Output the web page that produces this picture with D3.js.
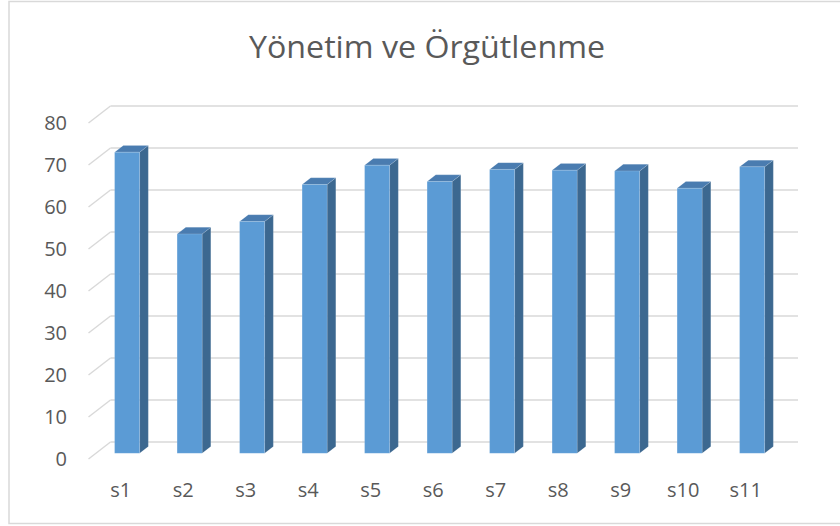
<!DOCTYPE html>
<html>
<head>
<meta charset="utf-8">
<script src="https://cdn.jsdelivr.net/npm/d3@7"></script>
<style>
  html, body { margin: 0; padding: 0; background: #fff; }
  text { font-family: "Open Sans", sans-serif; fill: #595959; }
</style>
</head>
<body>
<div id="chart"></div>
<script>
var width = 840;
var height = 526;

var title = "Yönetim ve Örgütlenme";
var categories = ["s1", "s2", "s3", "s4", "s5", "s6", "s7", "s8", "s9", "s10", "s11"];
var values = [71.7, 52.2, 55.2, 64.0, 68.6, 64.7, 67.6, 67.4, 67.2, 63.1, 68.2];
var yTicks = [0, 10, 20, 30, 40, 50, 60, 70, 80];

// oblique depth: back wall -> front floor edge
var depthX = -22;
var depthY = 17;
var barFront = 0.665;
var barBack = 0.27;

function proj(x, y, f) {
  return [x + depthX * f, y + depthY * f];
}

var svg = d3.select("#chart")
  .append("svg")
  .attr("width", width)
  .attr("height", height)
  .attr("viewBox", [0, 0, width, height]);

// chart border
svg.append("rect")
  .attr("x", 9)
  .attr("y", 1.5)
  .attr("width", 840)
  .attr("height", 522)
  .attr("fill", "none")
  .attr("stroke", "#D9D9D9")
  .attr("stroke-width", 1.5);

var x = d3.scaleBand()
  .domain(categories)
  .range([110.5, 798]);

var y = d3.scaleLinear()
  .domain([0, 80])
  .range([442, 106]);

// gridlines: back wall + side diagonal
var grid = svg.append("g");
yTicks.forEach(function(t) {
  var yy = y(t);
  var p = proj(110.5, yy, 1);
  grid.append("line")
    .attr("x1", 110.5).attr("y1", yy)
    .attr("x2", 798).attr("y2", yy)
    .attr("stroke", "#D9D9D9").attr("stroke-width", 1.5);
  grid.append("line")
    .attr("x1", p[0]).attr("y1", p[1])
    .attr("x2", 110.5).attr("y2", yy)
    .attr("stroke", "#D9D9D9").attr("stroke-width", 1.5);
  svg.append("text")
    .attr("x", 67)
    .attr("y", p[1])
    .attr("dy", "0.35em")
    .attr("text-anchor", "end")
    .attr("font-size", 20)
    .text(t);
});

// bars
var barW = 25;
var bars = svg.append("g");
categories.forEach(function(c, i) {
  var x0 = x(c) + (x.bandwidth() - barW) / 2;
  var x1 = x0 + barW;
  var yTop = y(values[i]);
  var yBot = y(0);

  var ftl = proj(x0, yTop, barFront), ftr = proj(x1, yTop, barFront);
  var fbr = proj(x1, yBot, barFront), fbl = proj(x0, yBot, barFront);
  var btl = proj(x0, yTop, barBack), btr = proj(x1, yTop, barBack);
  var bbr = proj(x1, yBot, barBack);

  bars.append("polygon")
    .attr("points", [ftr, btr, bbr, fbr].join(" "))
    .attr("fill", "#3C6890")
    .attr("stroke", "#ffffff").attr("stroke-opacity", 0.2).attr("stroke-width", 0.6);
  bars.append("polygon")
    .attr("points", [ftl, btl, btr, ftr].join(" "))
    .attr("fill", "#4A7CB0")
    .attr("stroke", "#ffffff").attr("stroke-opacity", 0.2).attr("stroke-width", 0.6);
  bars.append("polygon")
    .attr("points", [ftl, ftr, fbr, fbl].join(" "))
    .attr("fill", "#5B9BD5")
    .attr("stroke", "#ffffff").attr("stroke-opacity", 0.2).attr("stroke-width", 0.6);

  var lp = proj(x(c) + x.bandwidth() / 2, yBot, 1);
  svg.append("text")
    .attr("x", lp[0] + 1)
    .attr("y", 497)
    .attr("text-anchor", "middle")
    .attr("font-size", 20)
    .text(c);
});

svg.append("text")
  .attr("x", 427)
  .attr("y", 58)
  .attr("text-anchor", "middle")
  .attr("font-size", 31)
  .attr("textLength", 356)
  .attr("lengthAdjust", "spacingAndGlyphs")
  .text(title);
</script>
</body>
</html>
